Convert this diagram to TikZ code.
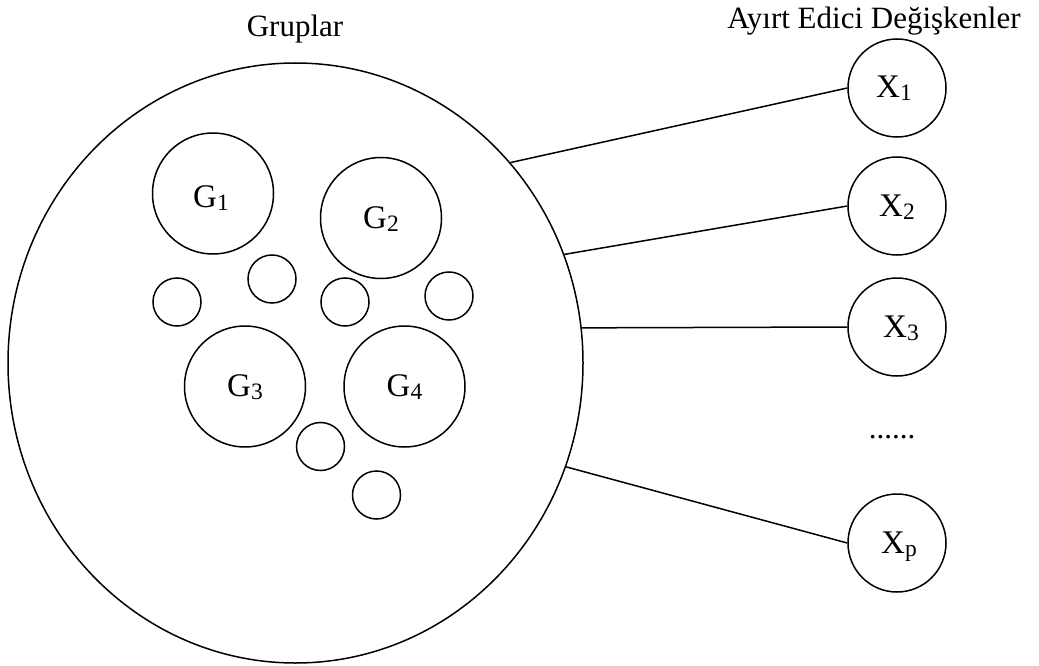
\documentclass[tikz,border=0pt]{standalone}
\usepackage{fontspec}
\setmainfont{Liberation Serif}
\usetikzlibrary{shapes.geometric}
\newcommand\sbs[1]{\raisebox{-3pt}{\fontsize{23.5}{24}\selectfont #1}}
\begin{document}
\begin{tikzpicture}[x=1pt,y=-1pt, line width=1.5pt,
  lbl/.style={font=\fontsize{33}{38}\selectfont, text height=22pt, text depth=2pt},
  bigset/.style={ellipse, draw, minimum width=575pt, minimum height=600pt, inner sep=0pt},
  grp/.style={circle, draw, minimum size=121pt, inner sep=0pt, lbl},
  smallc/.style={circle, draw, minimum size=48pt, inner sep=0pt},
  var/.style={circle, draw, minimum size=98pt, inner sep=0pt, lbl},
  title/.style={anchor=base, inner sep=0pt, font=\fontsize{31}{37}\selectfont},
  link/.style={draw}]
\useasboundingbox (0,0) rectangle (1039,666);
% titles
\node[title] (t1) at (295,37) {Gruplar};
\node[title] (t2) at (874,29) {Ayırt Edici Değişkenler};
% big set
\node[bigset] (big) at (295.5,363) {};
% groups
\node[grp, text height=28pt, text depth=0pt] (g1) at (213,193.5) {\hspace{-4pt}G\sbs{1}};
\node[grp] (g2) at (381,218) {G\sbs{2}};
\node[grp] (g3) at (245,386.5) {G\sbs{3}};
\node[grp] (g4) at (404.5,386.5) {G\sbs{4}};
% small circles
\node[smallc] (s1) at (177,302) {};
\node[smallc] (s2) at (272,279) {};
\node[smallc] (s3) at (345,302) {};
\node[smallc] (s4) at (449,296) {};
\node[smallc] (s5) at (320.5,446.5) {};
\node[smallc] (s6) at (376.5,495) {};
% variables
\node[var] (x1) at (897,88) {\hspace{-6pt}X\sbs{1}};
\node[var] (x2) at (897,206) {X\sbs{2}};
\node[var] (x3) at (897,327) {\hspace{8pt}X\sbs{3}};
\node[title] (dots) at (892,438) {......};
\node[var] (xp) at (897,543) {\hspace{4pt}X\sbs{p}};
% links
\draw[link] (big.43.4) -- (x1.west);
\draw[link] (big.22) -- (x2.west);
\draw[link] (big.7.3) -- (x3.west);
\draw[link] (big.-21.8) -- (xp.west);
\end{tikzpicture}
\end{document}
